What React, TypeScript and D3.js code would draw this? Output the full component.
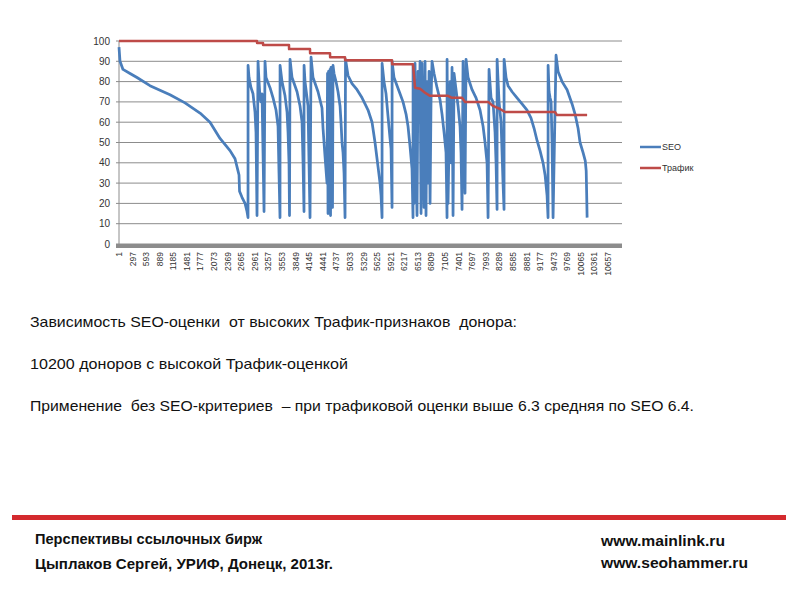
import React from "react";
import * as d3 from "d3";

// ---- data (donor index -> score) ----
const seoIdx = [
  1, 23, 88, 241, 393, 676, 1112, 1439, 1766, 1984, 2202, 2420, 2529, 2594, 2616, 2627, 2681, 2747, 2790, 2812,
  2813, 2834, 2877, 2921, 2964, 2986, 3008,
  3030, 3052, 3073, 3095, 3117, 3139, 3161,
  3182, 3204, 3291, 3357, 3422, 3466, 3487, 3509,
  3510, 3553, 3618, 3662, 3684, 3705, 3716,
  3727, 3771, 3880, 3945, 3989, 4011, 4032,
  4033, 4054, 4098, 4119, 4141, 4163,
  4185, 4228, 4337, 4424, 4446, 4490, 4533,
  4544, 4555, 4566, 4577, 4599, 4610, 4620, 4631, 4642, 4653, 4664,
  4686, 4729, 4773, 4817, 4838, 4860, 4882, 4904, 4926,
  4936, 4991, 5078, 5187, 5296, 5361, 5427, 5514, 5579, 5645, 5688, 5710, 5732,
  5733, 5775, 5819, 5862, 5906, 5928, 5950,
  5951, 5993, 6059, 6124, 6189, 6255, 6298, 6342, 6385, 6407,
  6408, 6429, 6451, 6473, 6494, 6516, 6538, 6560, 6582, 6603, 6625, 6647, 6669, 6690, 6712, 6734, 6756, 6778, 6799, 6821,
  6865, 6930, 6996, 7039, 7083, 7126, 7148,
  7149, 7170, 7214, 7235, 7257, 7279, 7301, 7344, 7388, 7431, 7453, 7475,
  7497, 7518, 7540, 7562, 7606, 7693, 7780, 7867, 7933, 7976, 8020, 8042,
  8063, 8107, 8150, 8194, 8216, 8238,
  8239, 8281, 8325, 8368, 8390,
  8391, 8434, 8477, 8565, 8673, 8782, 8891, 8978, 9044, 9109, 9174, 9240, 9284, 9327, 9349,
  9350, 9371, 9393, 9415, 9436, 9458,
  9523, 9567, 9654, 9763, 9872, 9937, 10003, 10046, 10112, 10160, 10180, 10190, 10200,
];
const seoVal = [
  97, 90, 86, 84, 82, 78, 73.5, 69.5, 64.5, 60, 52, 46, 42, 36, 34, 26, 23, 20, 16, 13,
  88, 82, 77, 74, 65, 55, 14,
  90, 80, 72, 70, 74, 45, 16,
  90, 82, 77, 72, 66, 58, 35, 13,
  88, 80, 73, 65, 55, 40, 14,
  91, 82, 75, 68, 60, 40, 16,
  88, 80, 72, 68, 40, 13,
  92, 82, 75, 67, 57, 43, 30,
  84, 15, 85, 20, 86, 14, 87, 22, 87, 18, 88,
  84, 80, 75, 68, 60, 50, 45, 35, 13,
  91, 83, 79, 76, 72, 69, 66, 60, 50, 38, 30, 24, 13,
  89, 80, 74, 63, 52, 47, 18,
  90, 82, 78, 74, 70, 64, 58, 48, 37, 13,
  88, 20, 89, 40, 14, 85, 60, 90, 15, 89, 50, 18, 90, 14, 80, 30, 85, 20, 70, 90,
  84, 77, 71, 64, 55, 45, 13,
  91, 20, 80, 40, 87, 14, 84, 76, 68, 58, 45, 17,
  90, 60, 25, 91, 82, 76, 72, 66, 58, 50, 40, 13,
  86, 72, 70, 55, 40, 17,
  91, 70, 60, 30, 17,
  91, 82, 78, 75, 72, 69, 66, 62, 57, 51, 46, 40, 34, 24, 13,
  88, 75, 72, 70, 50, 13,
  93, 85, 80, 76, 69, 64, 57, 50, 45, 41, 36, 25, 13,
];
const trafIdx = [
  1, 3008, 3009, 3139, 3140, 3705, 3706, 4163, 4164, 4599, 4600, 4926, 4927, 5950, 5951, 6407,
  6451, 6560, 6669, 6778, 7170, 7257, 7475, 7540, 8042, 8150, 8302, 8411, 9500, 9544, 10200,
];
const trafVal = [
  100, 100, 99, 99, 98, 98, 96, 96, 94, 94, 92, 92, 90.5, 90.5, 88.5, 88.5,
  77, 76.5, 74.5, 73, 73, 72, 72, 70, 70, 68, 66.5, 65, 65, 63.5, 63.5,
];
const yTicks = [0, 10, 20, 30, 40, 50, 60, 70, 80, 90, 100];
const xTickLabels = [
  1, 297, 593, 889, 1185, 1481, 1777, 2073, 2369, 2665, 2961, 3257, 3553, 3849, 4145, 4441, 4737, 5033, 5329,
  5625, 5921, 6217, 6513, 6809, 7105, 7401, 7697, 7993, 8289, 8585, 8881, 9177, 9473, 9769, 10065, 10361, 10657,
];
const categoryCount = 10960;
const seriesNames = ["SEO", "Трафик"];

const textLines = [
  "Зависимость SEO-оценки  от высоких Трафик-признаков  донора:",
  "10200 доноров с высокой Трафик-оценкой",
  "Применение  без SEO-критериев  – при трафиковой оценки выше 6.3 средняя по SEO 6.4.",
];
const footerLeft = ["Перспективы ссылочных бирж", "Цыплаков Сергей, УРИФ, Донецк, 2013г."];
const footerRight = ["www.mainlink.ru", "www.seohammer.ru"];

const BLUE = "#4a7ebb";
const RED = "#be4b48";
const GRID = "#8c8c8c";

export default function App() {
  const left = 119, right = 622, top = 41, bottom = 244;
  const x = d3.scaleLinear().domain([1, categoryCount]).range([left, right]);
  const y = d3.scaleLinear().domain([0, 100]).range([bottom, top]);

  const seoData = seoIdx.map((i, k) => [i, seoVal[k]] as [number, number]);
  const trafData = trafIdx.map((i, k) => [i, trafVal[k]] as [number, number]);
  const line = d3.line<[number, number]>().x((d) => x(d[0])).y((d) => y(d[1]));

  const font = "'Liberation Sans', Arial, sans-serif";
  const narrow = "'Liberation Sans Narrow', 'Liberation Sans', Arial, sans-serif";
  const lineWidths = [487, 318, 664];
  const lineY = [327, 369, 411];

  return (
    <div style={{ position: "absolute", left: 0, top: 0 }}>
      <svg width={800} height={600} style={{ display: "block", background: "#fff" }}>
        {/* gridlines */}
        {yTicks.map((t) => (
          <line key={"g" + t} x1={left - 3} x2={right} y1={y(t)} y2={y(t)} stroke={GRID} strokeWidth={1} />
        ))}
        {/* y labels */}
        {yTicks.map((t) => (
          <text key={"yl" + t} x={110} y={y(t)} dy="0.35em" textAnchor="end" fontFamily={font} fontSize={10} fill="#333">
            {t}
          </text>
        ))}
        {/* left axis */}
        <line x1={left} x2={left} y1={top} y2={bottom} stroke={GRID} strokeWidth={1} />
        {/* bottom axis (thick) */}
        <rect x={left - 3} y={bottom} width={right - left + 3} height={4} fill="#8c8c8c" />
        {/* x labels */}
        {xTickLabels.map((t) => (
          <text
            key={"xl" + t}
            transform={`translate(${x(t)},${bottom + 8}) rotate(-90)`}
            textAnchor="end"
            dy="0.35em"
            fontFamily={font}
            fontSize={8.5}
            fill="#333"
          >
            {t}
          </text>
        ))}
        {/* series: SEO first, Трафик drawn on top */}
        <path d={line(seoData) || ""} fill="none" stroke={BLUE} strokeWidth={2.75} strokeLinejoin="round" />
        <path d={line(trafData) || ""} fill="none" stroke={RED} strokeWidth={2.5} strokeLinejoin="round" />
        {/* legend */}
        {seriesNames.map((n, k) => (
          <g key={n} transform={`translate(640,${147 + k * 21})`}>
            <line x1={0} x2={21} y1={0} y2={0} stroke={k === 0 ? BLUE : RED} strokeWidth={2.5} />
            <text x={22} y={0} dy="0.35em" fontFamily={font} fontSize={9} fill="#333">
              {n}
            </text>
          </g>
        ))}
        {/* description text */}
        {textLines.map((s, k) => (
          <text
            key={"t" + k}
            x={30}
            y={lineY[k]}
            fontFamily={narrow}
            fontSize={15}
            fill="#111"
            textLength={lineWidths[k]}
            lengthAdjust="spacingAndGlyphs"
            style={{ whiteSpace: "pre" }}
          >
            {s}
          </text>
        ))}
        {/* footer */}
        <rect x={12} y={515} width={774} height={5} fill="#d42a2e" />
        {footerLeft.map((s, k) => (
          <text
            key={"fl" + k}
            x={35}
            y={544 + k * 25}
            fontFamily={narrow}
            fontWeight="bold"
            fontSize={15}
            fill="#111"
            textLength={k === 0 ? 227 : 298}
            lengthAdjust="spacingAndGlyphs"
          >
            {s}
          </text>
        ))}
        {footerRight.map((s, k) => (
          <text
            key={"fr" + k}
            x={601}
            y={546 + k * 22}
            fontFamily={narrow}
            fontWeight="bold"
            fontSize={15}
            fill="#111"
            textLength={k === 0 ? 124 : 147}
            lengthAdjust="spacingAndGlyphs"
          >
            {s}
          </text>
        ))}
      </svg>
    </div>
  );
}
